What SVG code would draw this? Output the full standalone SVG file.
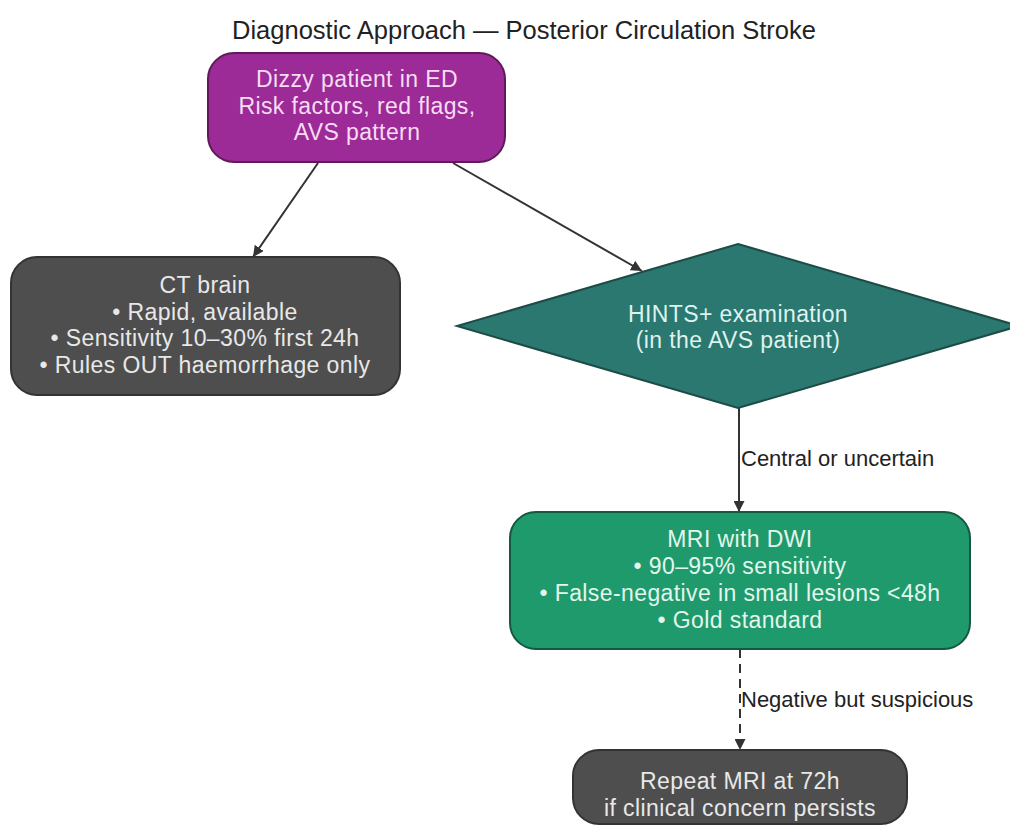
<svg xmlns="http://www.w3.org/2000/svg" width="1010" height="837" viewBox="0 0 1010 837">
<defs>
<marker id="arr" viewBox="0 0 10 10" refX="10" refY="5" markerWidth="11" markerHeight="11" markerUnits="userSpaceOnUse" orient="auto">
<path d="M0,0 L10,5 L0,10 z" fill="#333"/>
</marker>
<style>
text{font-family:"Liberation Sans",Arial,sans-serif;text-anchor:middle}
.title{font-size:25.5px;fill:#222}
.nt{font-size:23px;letter-spacing:0.4px}
.lbl{font-size:22px;fill:#222;text-anchor:start}
.edge{stroke:#333;stroke-width:2;fill:none}
</style>
</defs>
<rect width="1010" height="837" fill="#fff"/>
<text class="title" x="524" y="39">Diagnostic Approach — Posterior Circulation Stroke</text>
<g id="connectors">
<path class="edge" d="M318,163 L253,257" marker-end="url(#arr)"/>
<path class="edge" d="M453,163 L642,271" marker-end="url(#arr)"/>
<path class="edge" d="M739,408 L739,512" marker-end="url(#arr)"/>
<path class="edge" d="M740,649 L740,750" stroke-dasharray="9,6" marker-end="url(#arr)"/>
<text class="lbl" x="741" y="466">Central or uncertain</text>
<text class="lbl" x="741" y="707">Negative but suspicious</text>
</g>
<g id="n-dizzy">
<rect x="208" y="53" width="297" height="109" rx="26" fill="#9c2a97" stroke="#5e1a5b" stroke-width="2"/>
<text class="nt" fill="#f7dcf4"><tspan x="357" y="87">Dizzy patient in ED</tspan><tspan x="357" y="113.5">Risk factors, red flags,</tspan><tspan x="357" y="140">AVS pattern</tspan></text>
</g>
<g id="n-ct">
<rect x="11" y="257" width="389" height="138" rx="26" fill="#4e4e4e" stroke="#333" stroke-width="2"/>
<text class="nt" fill="#e8e8e8"><tspan x="205" y="293">CT brain</tspan><tspan x="205" y="320">• Rapid, available</tspan><tspan x="205" y="346">• Sensitivity 10–30% first 24h</tspan><tspan x="205" y="373">• Rules OUT haemorrhage only</tspan></text>
</g>
<g id="n-hints">
<polygon points="738,244 1019,326 738,408 457,326" fill="#2a7870" stroke="#1d4c47" stroke-width="2"/>
<text class="nt" fill="#dff2ee"><tspan x="738" y="322">HINTS+ examination</tspan><tspan x="738" y="348">(in the AVS patient)</tspan></text>
</g>
<g id="n-mri">
<rect x="510" y="512" width="460" height="137" rx="26" fill="#1f9a6d" stroke="#16573f" stroke-width="2"/>
<text class="nt" fill="#e2f6ec"><tspan x="740" y="547">MRI with DWI</tspan><tspan x="740" y="574">• 90–95% sensitivity</tspan><tspan x="740" y="601">• False-negative in small lesions &lt;48h</tspan><tspan x="740" y="628">• Gold standard</tspan></text>
</g>
<g id="n-repeat">
<rect x="573" y="750" width="334" height="74" rx="26" fill="#4e4e4e" stroke="#333" stroke-width="2"/>
<text class="nt" fill="#e8e8e8"><tspan x="740" y="789">Repeat MRI at 72h</tspan><tspan x="740" y="816">if clinical concern persists</tspan></text>
</g>
</svg>
